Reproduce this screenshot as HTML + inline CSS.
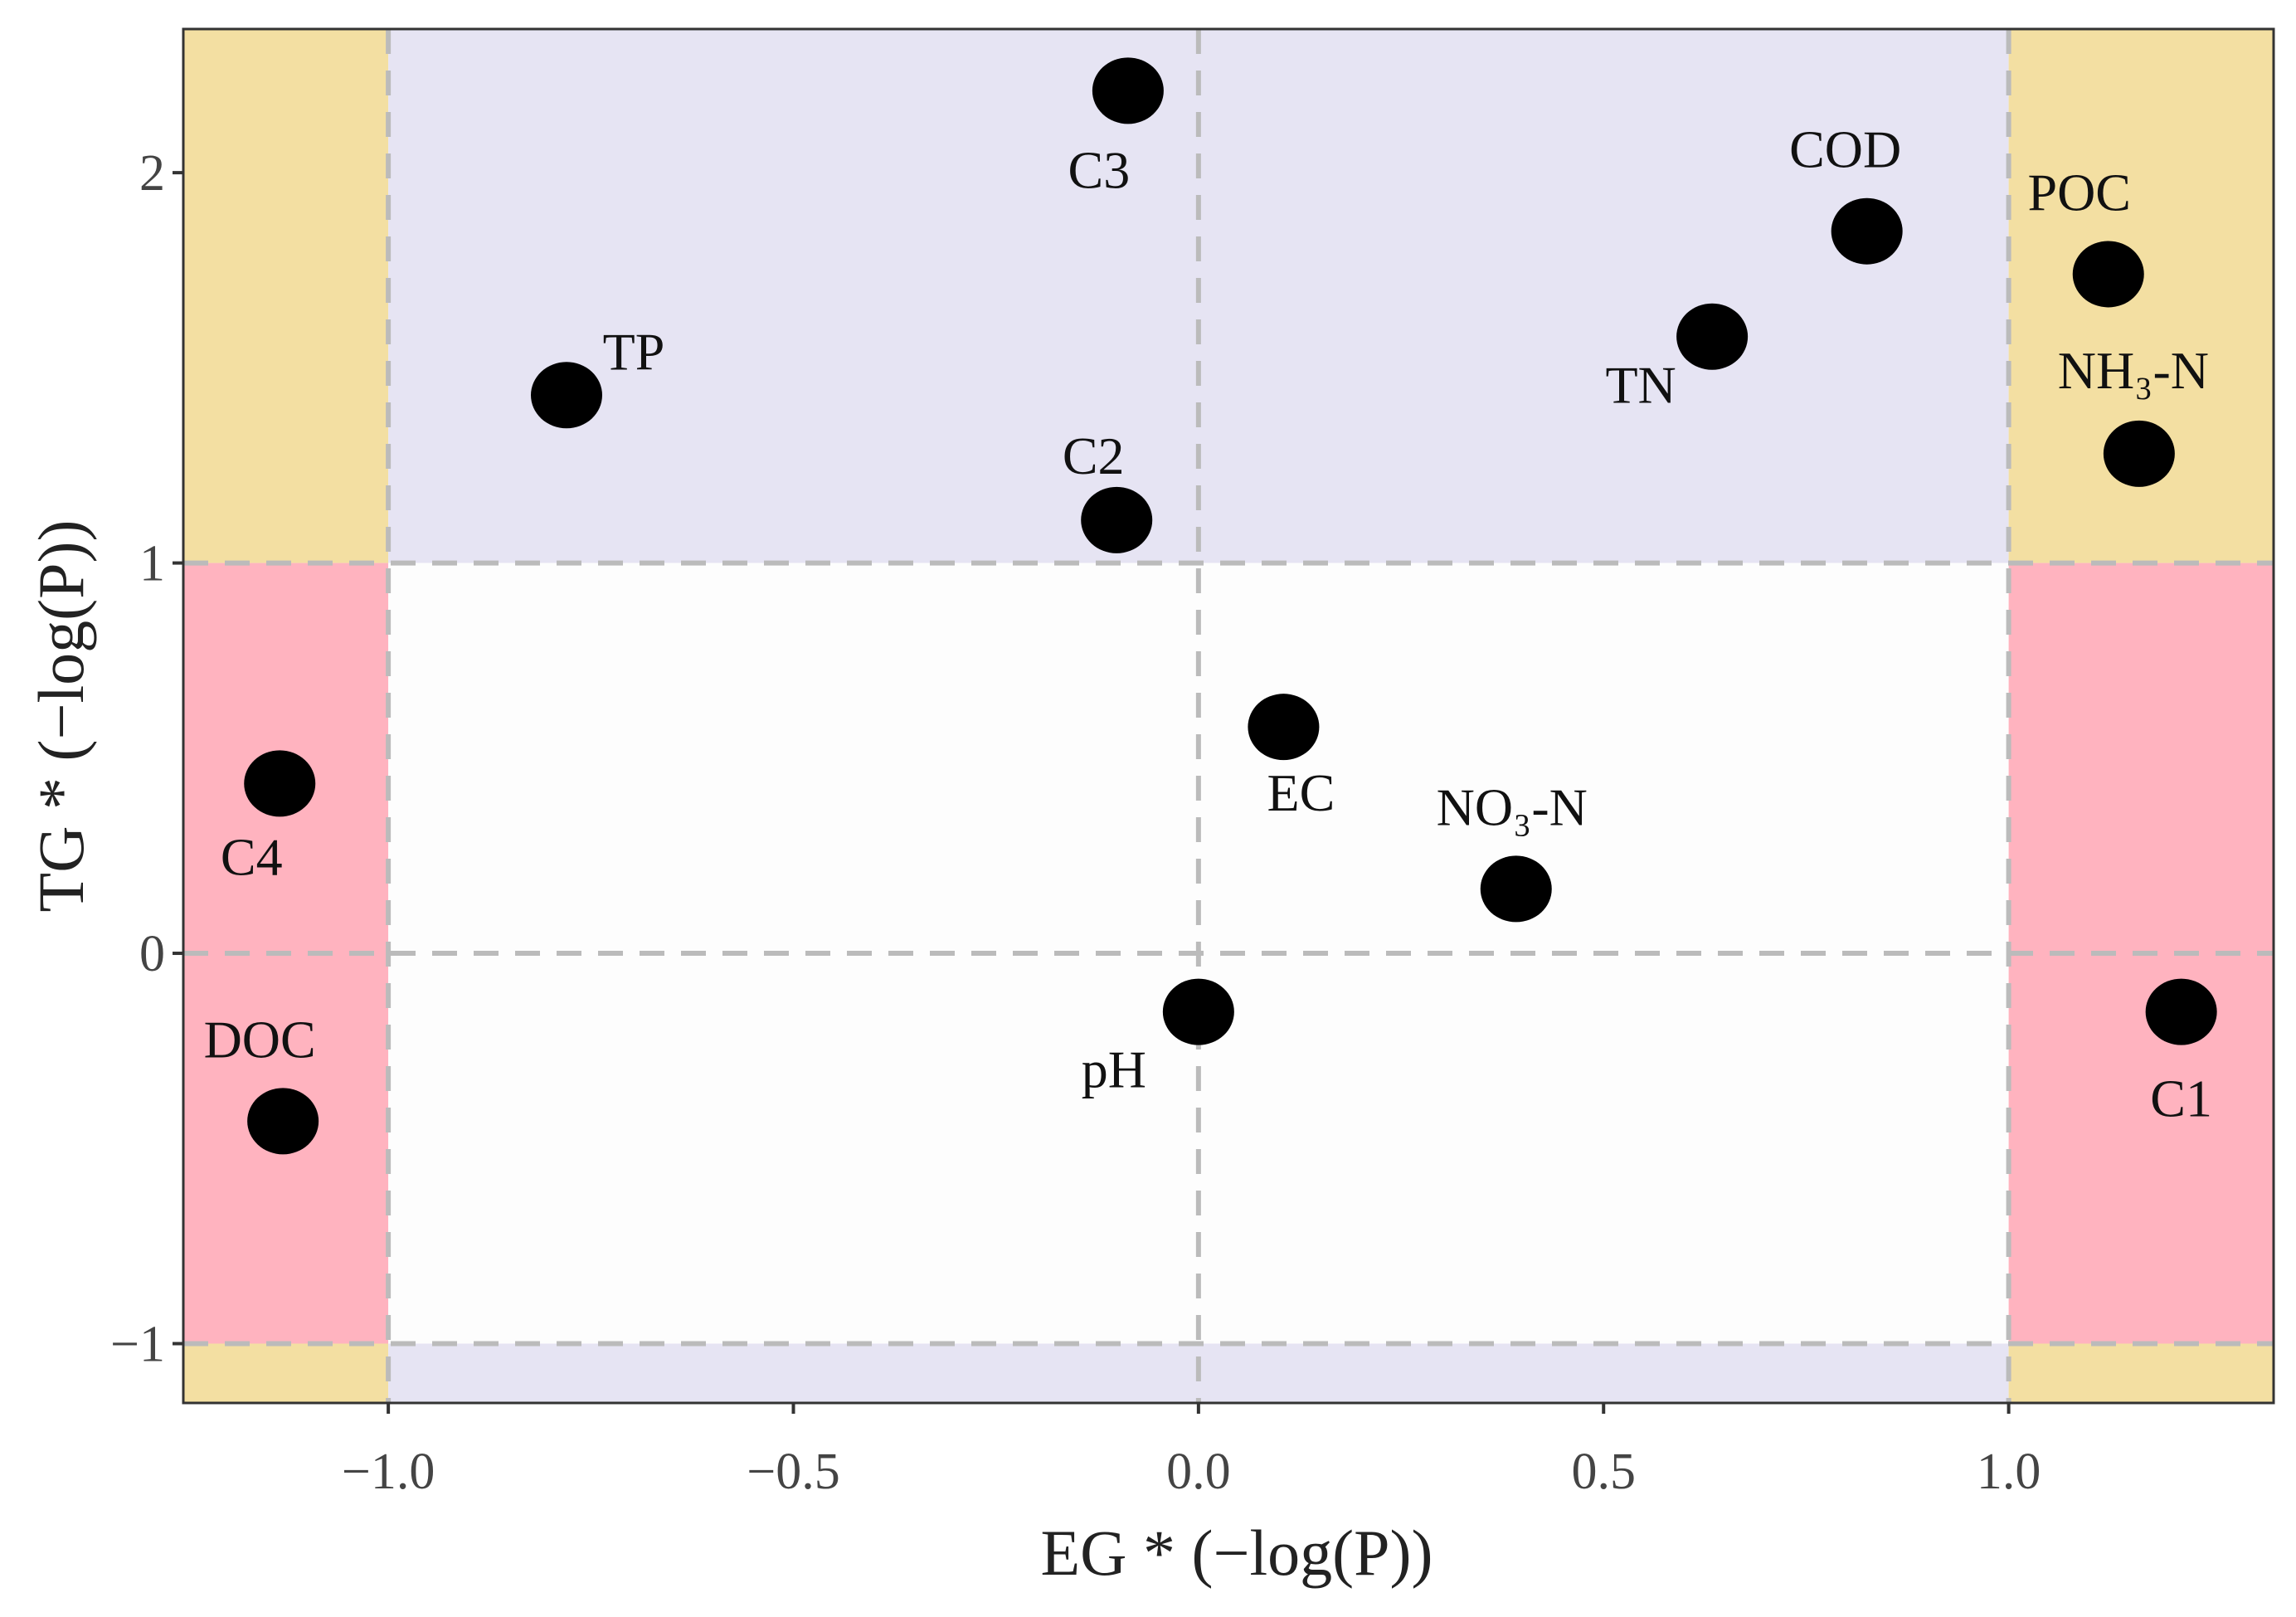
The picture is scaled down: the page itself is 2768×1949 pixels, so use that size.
<!DOCTYPE html>
<html><head><meta charset="utf-8"><style>
html,body{margin:0;padding:0;background:#fff;}
svg{display:block;font-family:"Liberation Serif",serif;}
</style></head><body>
<svg id="chart" width="2768" height="1949" viewBox="0 0 2768 1949" xmlns="http://www.w3.org/2000/svg">
<g id="bg"></g>
<g id="grid"></g>
<g id="pts"></g>
<g id="labs"></g>
<rect x="221" y="35" width="2520" height="1656" fill="none" stroke="#333" stroke-width="3"/>
<g id="axes"></g>
<text x="1491" y="1898" font-size="78" text-anchor="middle" fill="#222">EG * (−log(P))</text>
<text transform="translate(100,863) rotate(-90)" font-size="78" text-anchor="middle" fill="#222">TG * (−log(P))</text>
</svg>
<script>
const names = ["C3","COD","POC","NH₃-N","TN","TP","C2","EC","NO₃-N","pH","C1","C4","DOC"];
const xVals = [-0.087,0.825,1.123,1.161,0.634,-0.78,-0.101,0.105,0.392,0.0,1.213,-1.134,-1.13];
const yVals = [2.21,1.85,1.74,1.28,1.58,1.43,1.11,0.58,0.165,-0.15,-0.15,0.435,-0.43];
const xTicks = [-1.0,-0.5,0.0,0.5,1.0];
const xTickLabels = ["−1.0","−0.5","0.0","0.5","1.0"];
const yTicks = [-1,0,1,2];
const yTickLabels = ["−1","0","1","2"];
const labelDx = [-35,-26,-35,-7,-86,81,-28,21,-5,-102,0,-34,-28];
const labelDy = [95,-99,-99,-101,58,-53,-78,79,-99,69,104,88,-99];

const L=221,R=2741,T=35,B=1691;
const xmin=-1.253,xmax=1.327,ymin=-1.152,ymax=2.368;
const sx=v=>L+(v-xmin)/(xmax-xmin)*(R-L);
const sy=v=>B-(v-ymin)/(ymax-ymin)*(B-T);
const NS="http://www.w3.org/2000/svg";
function mk(tag,attrs,parent){const e=document.createElementNS(NS,tag);for(const k in attrs)e.setAttribute(k,attrs[k]);parent.appendChild(e);return e;}
const bg=document.getElementById('bg');
const xs=[L,sx(-1),sx(1),R], ys=[T,sy(1),sy(-1),B];
const cols=[["#F3DFA2","#E6E4F3","#F3DFA2"],["#FFB3BF","#FDFDFD","#FFB3BF"],["#F3DFA2","#E6E4F3","#F3DFA2"]];
for(let r=0;r<3;r++)for(let c=0;c<3;c++){
  const e=mk('rect',{x:xs[c],y:ys[r],width:xs[c+1]-xs[c],height:ys[r+1]-ys[r],fill:cols[r][c]},bg);
  
  
}
const grid=document.getElementById('grid');
const dash={stroke:"#BBBBBB","stroke-width":6,"stroke-dasharray":"30 20",fill:"none"};
[-1,0,1].forEach(v=>{
  const a=mk('line',Object.assign({x1:sx(v),x2:sx(v),y1:T,y2:B},dash),grid);
  
  
  const b=mk('line',Object.assign({x1:L,x2:R,y1:sy(v),y2:sy(v)},dash),grid);
  
  
});
const pts=document.getElementById('pts'), labs=document.getElementById('labs');
names.forEach((n,i)=>{
  const cx=sx(xVals[i]),cy=sy(yVals[i]);
  const p=mk('ellipse',{cx:cx,cy:cy,rx:43,ry:40,fill:"#000"},pts);
  
  
  const t=mk('text',{x:cx+labelDx[i],y:cy+labelDy[i]+22,"font-size":64,"text-anchor":"middle",fill:"#111"},labs);
  t.textContent=n;
  
  
});
const axes=document.getElementById('axes');
xTicks.forEach((v,i)=>{
  const l=mk('line',{x1:sx(v),x2:sx(v),y1:B,y2:B+13,stroke:"#333","stroke-width":4},axes);
  
  
  const t=mk('text',{x:sx(v),y:1794,"font-size":62,"text-anchor":"middle",fill:"#444"},axes);
  t.textContent=xTickLabels[i];
  
  
});
yTicks.forEach((v,i)=>{
  const l=mk('line',{x1:L-13,x2:L,y1:sy(v),y2:sy(v),stroke:"#333","stroke-width":4},axes);
  
  
  const t=mk('text',{x:L-22,y:sy(v)+21,"font-size":62,"text-anchor":"end",fill:"#444"},axes);
  t.textContent=yTickLabels[i];
  
  
});
</script>
</body></html>
